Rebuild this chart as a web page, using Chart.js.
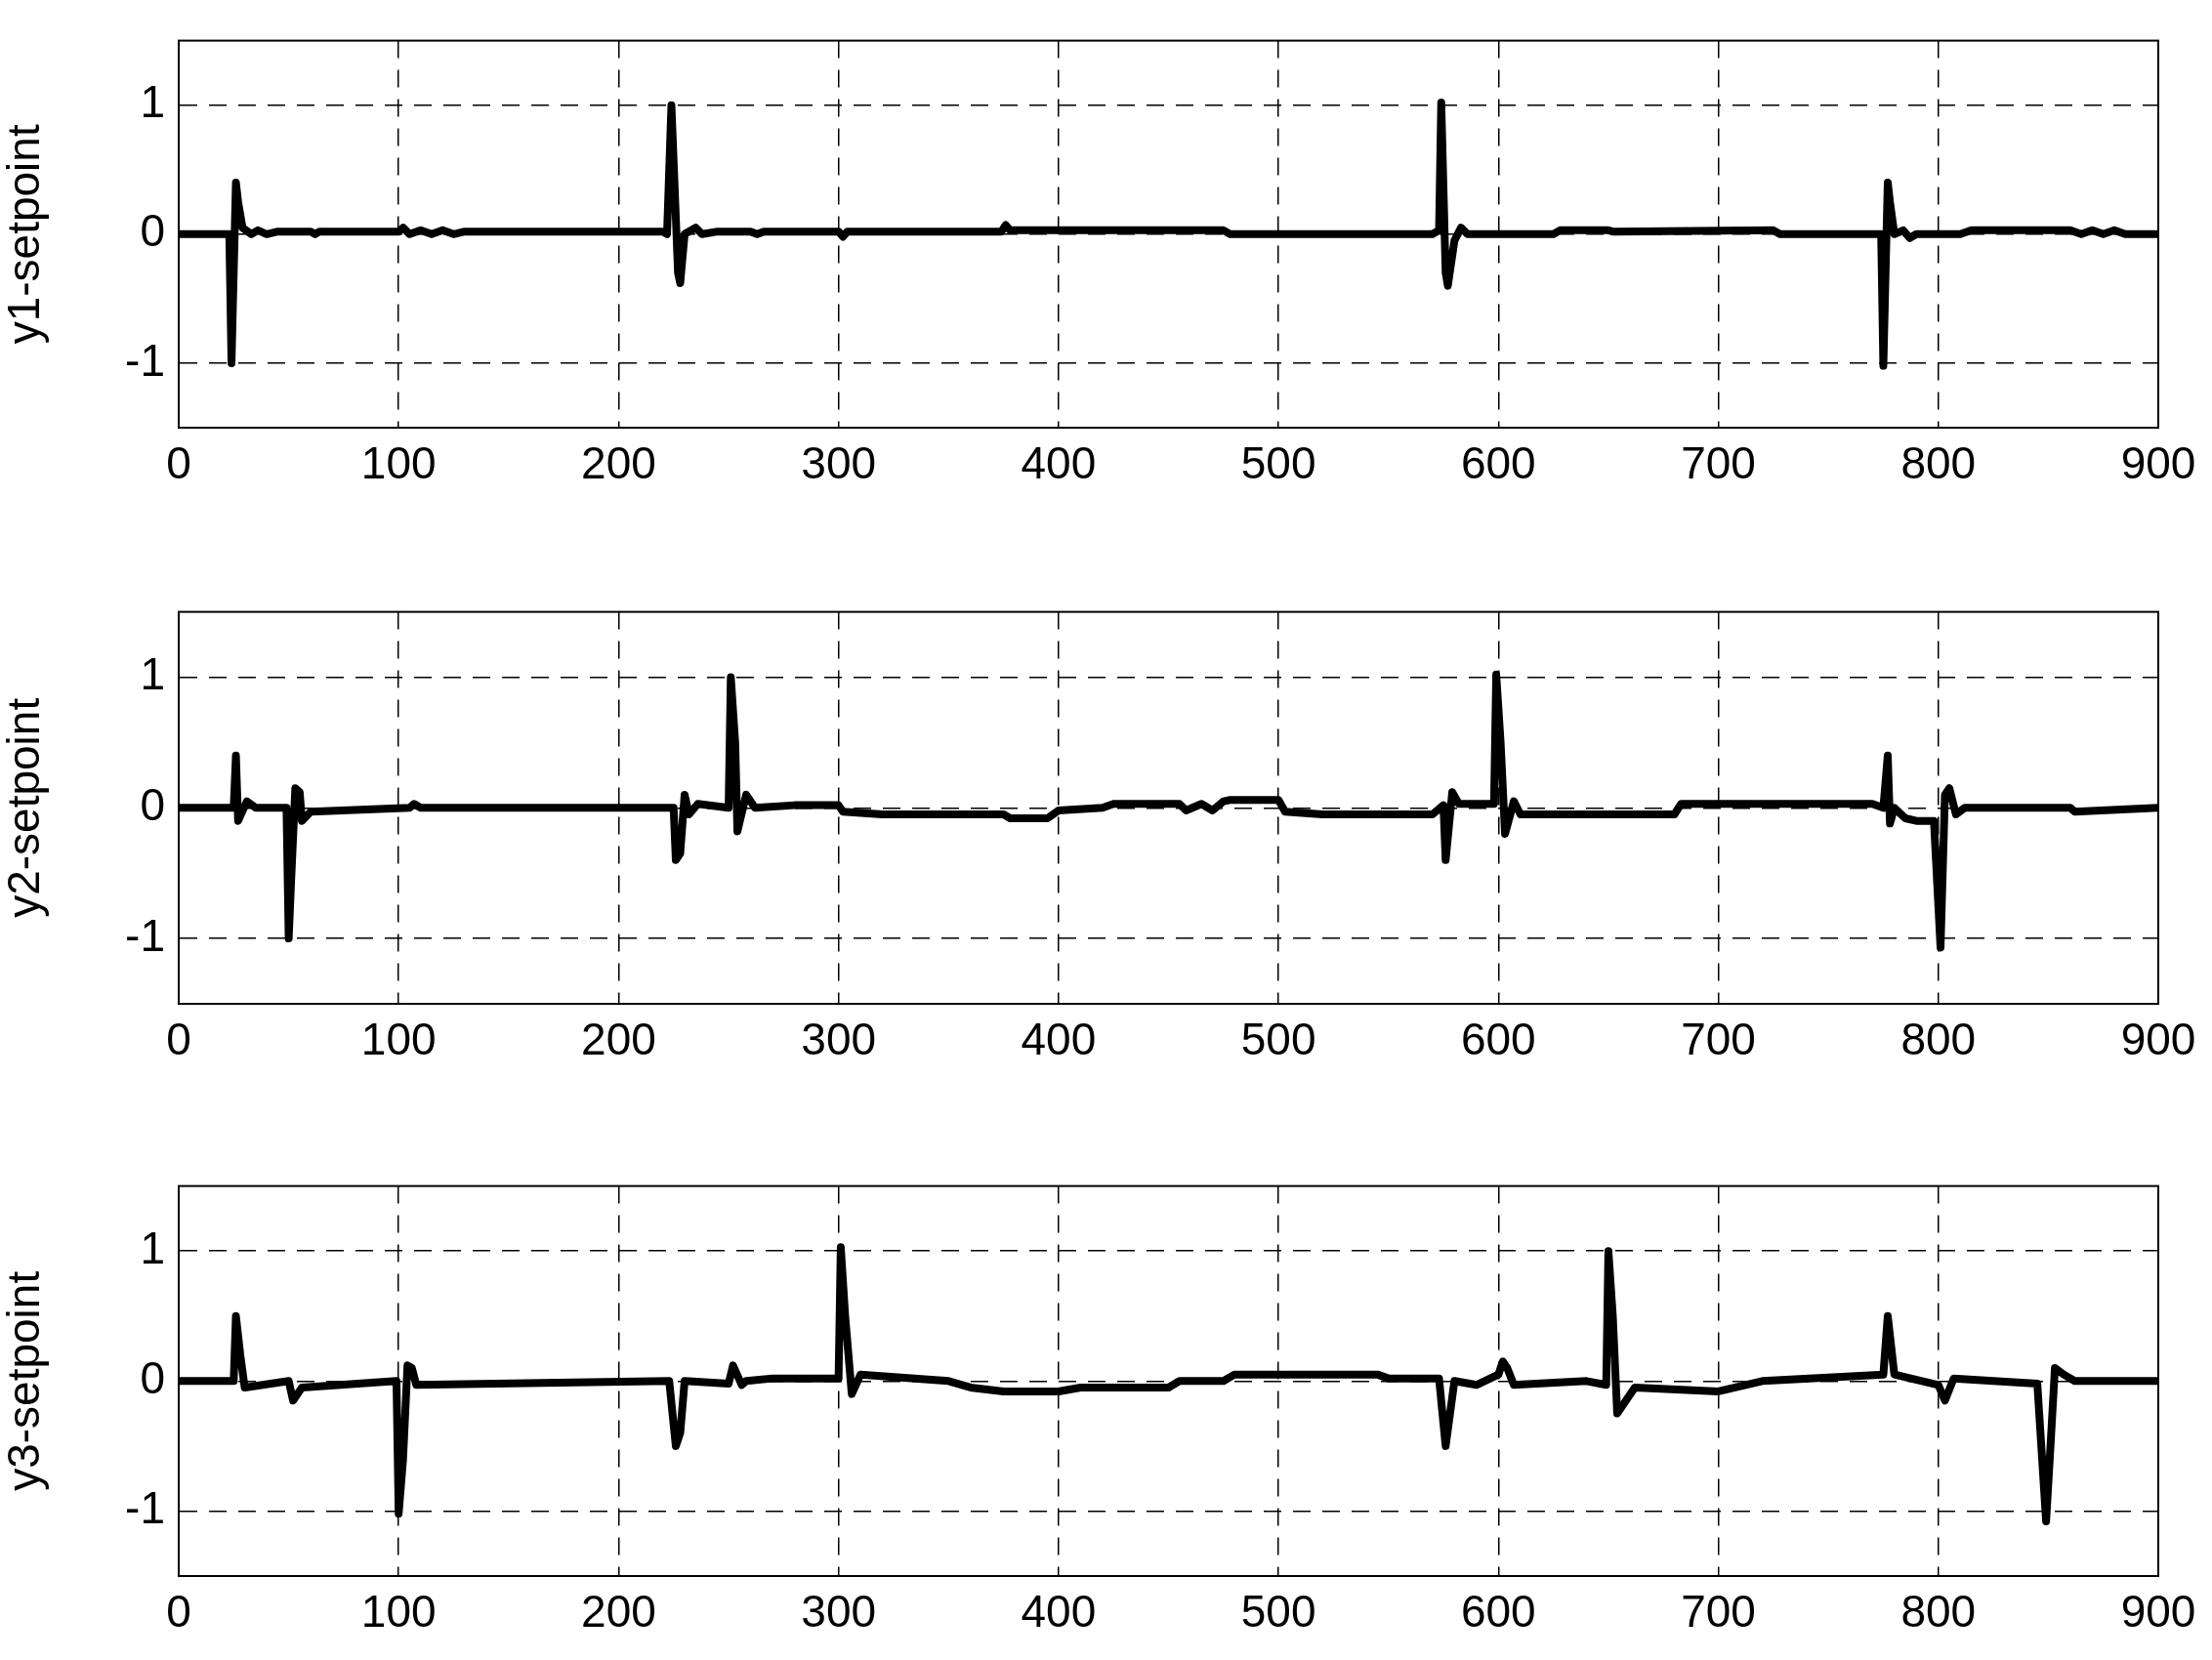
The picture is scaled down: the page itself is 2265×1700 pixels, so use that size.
<!DOCTYPE html>
<html>
<head>
<meta charset="utf-8">
<script src="https://cdn.jsdelivr.net/npm/chart.js@4.4.0/dist/chart.umd.min.js"></script>
<style>
  body { margin: 0; background: #fff; }
  .panel { position: absolute; left: 0; width: 2265px; }
</style>
</head>
<body>
<div class="panel" style="top:0;height:540px"><canvas id="c1"></canvas></div>
<div class="panel" style="top:585px;height:540px"><canvas id="c2"></canvas></div>
<div class="panel" style="top:1173px;height:527px"><canvas id="c3"></canvas></div>
<script>
// time steps and setpoint errors
const y1X = [0, 23, 24, 26, 27, 29, 33, 36, 40, 45, 60, 62, 64, 100, 102, 105, 110, 115, 120, 125, 130, 220, 222, 224, 227, 228, 230, 235, 238, 245, 260, 263, 266, 280, 300, 302, 304, 374, 376, 378, 475, 478, 570, 573, 574, 576, 577, 580, 583, 586, 625, 628, 650, 652, 725, 728, 774, 775, 777, 778, 780, 784, 787, 790, 810, 815, 820, 860, 865, 870, 875, 880, 885, 900];
const y1Y = [0, 0, -1, 0.4, 0.25, 0.05, 0, 0.03, 0, 0.02, 0.02, 0, 0.02, 0.02, 0.05, 0, 0.03, 0, 0.03, 0, 0.02, 0.02, 0, 1.0, -0.3, -0.38, 0, 0.05, 0, 0.02, 0.02, 0, 0.02, 0.02, 0.02, -0.02, 0.02, 0.02, 0.07, 0.03, 0.03, 0, 0, 0.03, 1.02, -0.3, -0.4, -0.05, 0.05, 0, 0, 0.03, 0.03, 0.02, 0.03, 0, 0, -1.02, 0.4, 0.25, 0, 0.03, -0.03, 0, 0, 0.03, 0.03, 0.03, 0, 0.03, 0, 0.03, 0, 0];

const y2X = [0, 25, 26, 27, 31, 35, 49, 50, 51, 53, 55, 56, 60, 105, 107, 110, 225, 226, 228, 230, 232, 236, 250, 251, 253, 254, 258, 262, 280, 300, 302, 320, 375, 378, 395, 400, 420, 425, 455, 458, 465, 470, 475, 478, 500, 503, 520, 570, 575, 576, 579, 582, 598, 599, 601, 603, 607, 610, 680, 683, 770, 775, 777, 778, 780, 785, 790, 798, 801, 803, 805, 808, 812, 860, 862, 900];
const y2Y = [0, 0, 0.4, -0.1, 0.05, 0, 0, -1.0, -0.6, 0.15, 0.12, -0.1, -0.03, 0, 0.03, 0, 0, -0.4, -0.35, 0.1, -0.05, 0.03, 0, 1.0, 0.5, -0.18, 0.1, 0, 0.02, 0.02, -0.03, -0.05, -0.05, -0.08, -0.08, -0.02, 0, 0.03, 0.03, -0.02, 0.03, -0.02, 0.05, 0.06, 0.06, -0.03, -0.05, -0.05, 0.02, -0.4, 0.12, 0.03, 0.03, 1.02, 0.5, -0.2, 0.05, -0.05, -0.05, 0.03, 0.03, 0, 0.4, -0.12, 0, -0.08, -0.1, -0.1, -1.07, 0.1, 0.15, -0.05, 0, 0, -0.03, 0];

const y3X = [0, 25, 26, 28, 30, 50, 52, 56, 99, 100, 102, 104, 106, 108, 223, 226, 228, 230, 250, 252, 256, 258, 270, 300, 301, 303, 306, 310, 350, 360, 375, 400, 410, 450, 455, 475, 480, 545, 550, 573, 576, 580, 590, 600, 602, 604, 607, 640, 649, 650, 652, 654, 658, 662, 700, 720, 775, 777, 778, 780, 800, 803, 807, 845, 849, 851, 853, 857, 862, 900];
const y3Y = [0, 0, 0.5, 0.2, -0.05, 0, -0.15, -0.05, 0, -1.02, -0.6, 0.12, 0.1, -0.03, 0, -0.5, -0.4, 0, -0.02, 0.12, -0.03, 0, 0.02, 0.02, 1.03, 0.5, -0.1, 0.05, 0, -0.05, -0.08, -0.08, -0.05, -0.05, 0, 0, 0.05, 0.05, 0.02, 0.02, -0.5, 0, -0.03, 0.05, 0.15, 0.1, -0.03, 0, -0.03, 1.0, 0.5, -0.25, -0.15, -0.05, -0.08, 0, 0.05, 0.5, 0.35, 0.05, -0.03, -0.15, 0.02, -0.02, -1.08, -0.5, 0.1, 0.05, 0, 0];

const xTicks = [0, 100, 200, 300, 400, 500, 600, 700, 800, 900];
const yTicks = [-1, 0, 1];

const FONT = { family: '"Liberation Sans", Arial, sans-serif', size: 46 };

function makePanel(id, xs, ys, title, topPad, xHeight) {
    const pts = xs.map((x, i) => ({ x: x, y: ys[i] }));
    new Chart(document.getElementById(id), {
        type: 'line',
        data: { datasets: [{ data: pts, borderColor: '#000', borderWidth: 8, pointRadius: 0, tension: 0, borderJoinStyle: 'round' }] },
        options: {
            responsive: true,
            maintainAspectRatio: false,
            animation: false,
            layout: { padding: { top: topPad, right: 55, left: 0, bottom: 0 } },
            plugins: { legend: { display: false }, tooltip: { enabled: false } },
            scales: {
                x: {
                    type: 'linear', min: 0, max: 900,
                    afterBuildTicks: s => { s.ticks = xTicks.map(v => ({ value: v })); },
                    afterFit: s => { s.height = xHeight; },
                    ticks: { color: '#000', font: FONT, padding: 12, maxRotation: 0 },
                    grid: { color: '#000', lineWidth: 1.5, drawTicks: false },
                    border: { color: '#000', width: 2, dash: [18, 12] }
                },
                y: {
                    min: -1.5, max: 1.5,
                    afterBuildTicks: s => { s.ticks = yTicks.map(v => ({ value: v })); },
                    afterFit: s => { s.width = 183; },
                    ticks: { color: '#000', font: FONT, padding: 14 },
                    title: { display: true, text: title, color: '#000', font: FONT, padding: 0 },
                    grid: { color: '#000', lineWidth: 1.5, drawTicks: false },
                    border: { color: '#000', width: 2, dash: [18, 12] }
                }
            }
        },
        plugins: [{
            id: 'frame',
            afterDraw: c => {
                const a = c.chartArea, g = c.ctx;
                g.save();
                g.strokeStyle = '#000';
                g.lineWidth = 2;
                g.setLineDash([]);
                g.strokeRect(a.left, a.top, a.right - a.left, a.bottom - a.top);
                g.restore();
            }
        }]
    });
}

makePanel('c1', y1X, y1Y, 'y1-setpoint', 20, 102);
makePanel('c2', y2X, y2Y, 'y2-setpoint', 20, 97);
makePanel('c3', y3X, y3Y, 'y3-setpoint', 20, 86);
</script>
</body>
</html>
